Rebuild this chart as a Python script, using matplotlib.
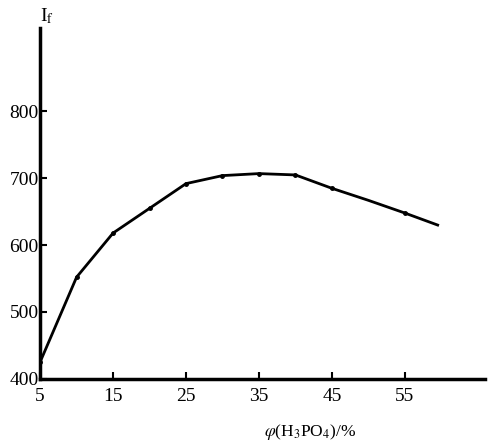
import matplotlib
matplotlib.use("Agg")
import matplotlib.pyplot as plt

# volume fraction of H3PO4 (%) and fluorescence intensity
conc = [5, 10, 15, 20, 25, 30, 35, 40, 45, 50, 55, 59.5]
intensity = [425, 552, 618, 655, 692, 704, 707, 705, 685, 667, 648, 630]
marked = [True, True, True, True, True, True, True, True, True, False, True, False]

xticks = [5, 15, 25, 35, 45, 55]
yticks = [400, 500, 600, 700, 800]

plt.rcParams['font.family'] = ['Liberation Serif', 'DejaVu Serif']
plt.rcParams['mathtext.fontset'] = 'stix'

fig = plt.figure(figsize=(4.89, 4.43), dpi=100)
ax = fig.add_axes([0.082, 0.145, 0.91, 0.792])

ax.plot(conc, intensity, color='black', lw=2.0)
mx = [c for c, m in zip(conc, marked) if m]
my = [v for v, m in zip(intensity, marked) if m]
ax.plot(mx, my, 'o', color='black', ms=2.5)

ax.set_xlim(5, 66)
ax.set_ylim(400, 925)
ax.set_xticks(xticks)
ax.set_yticks(yticks)
ax.spines['top'].set_visible(False)
ax.spines['right'].set_visible(False)
ax.spines['left'].set_linewidth(2.5)
ax.spines['bottom'].set_linewidth(2.5)
ax.tick_params(direction='in', length=5, width=1.5, labelsize=14, pad=1)
ax.tick_params(axis='x', pad=7)

ax.text(0.0, 1.005, r'I$_\mathrm{f}$', transform=ax.transAxes, fontsize=14,
        ha='left', va='bottom')
ax.text(0.607, -0.152, r'$\varphi$(H$_3$PO$_4$)/%', transform=ax.transAxes,
        fontsize=12.5, ha='center', va='center')

fig.savefig('out.png', dpi=100)
